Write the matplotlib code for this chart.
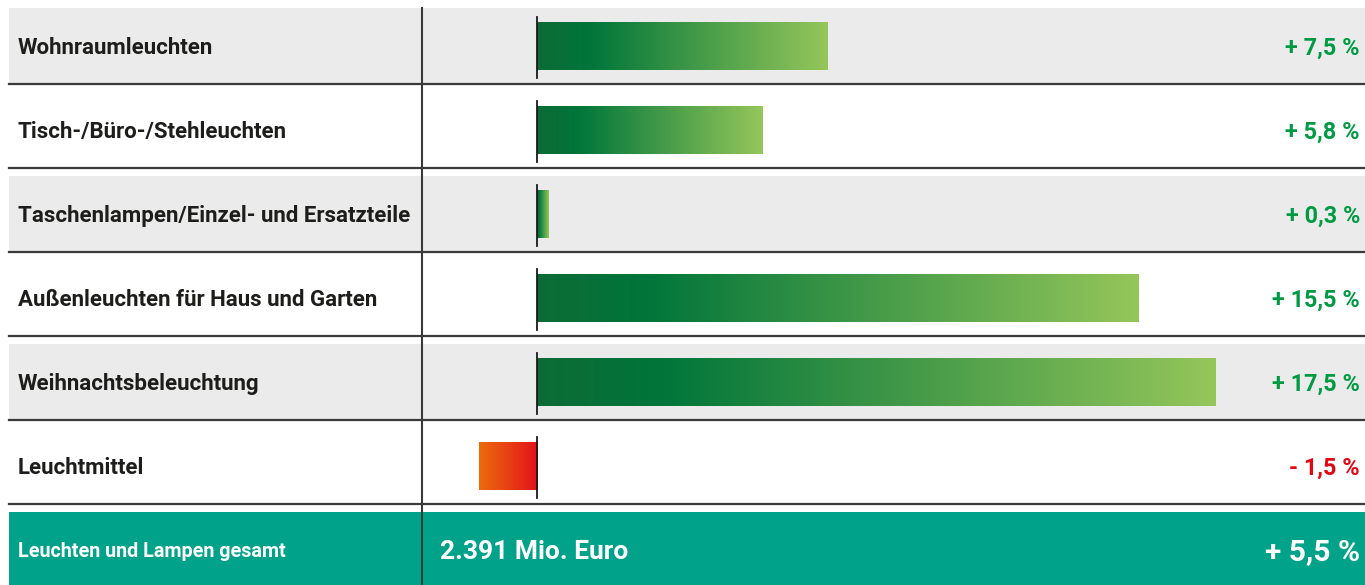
import numpy as np
import matplotlib.pyplot as plt
from matplotlib.colors import LinearSegmentedColormap

# Data
categories = ['Wohnraumleuchten', 'Tisch-/Büro-/Stehleuchten',
              'Taschenlampen/Einzel- und Ersatzteile', 'Außenleuchten für Haus und Garten',
              'Weihnachtsbeleuchtung', 'Leuchtmittel']
changes = [7.5, 5.8, 0.3, 15.5, 17.5, -1.5]
value_labels = ['+ 7,5 %', '+ 5,8 %', '+ 0,3 %', '+ 15,5 %', '+ 17,5 %', '- 1,5 %']
total_label = 'Leuchten und Lampen gesamt'
total_value = '2.391 Mio. Euro'
total_change = '+ 5,5 %'

FONT = ['Roboto', 'DejaVu Sans']
W, H = 1365, 585

green_cmap = LinearSegmentedColormap.from_list(
    'g', [(0, '#0d6b35'), (0.18, '#00753a'), (1, '#95c65a')])
red_cmap = LinearSegmentedColormap.from_list('r', ['#ec6b0e', '#e3121a'])

fig = plt.figure(figsize=(W / 100, H / 100), dpi=100)
ax = fig.add_axes([0, 0, 1, 1])

# x: percent units, zero at pixel 537, 38.8 px per percent
px_per = 38.8
x0 = -537 / px_per
x1 = (W - 537) / px_per
# y: one unit per row (84 px)
row_px = 84
ytop, ybot = 0, H / row_px
ax.axis('off')


def px(xp):
    # pixel column -> data x
    return x0 + xp / px_per


gap = 8 / row_px
n = len(categories)
bar_h = 0.57

for i, (cat, v, lab) in enumerate(zip(categories, changes, value_labels)):
    if i % 2 == 0:
        ax.fill_between([px(9), x1], i + gap, i + 1, color='#ebebeb', lw=0, zorder=0)
    ax.plot([px(9), x1], [i + 1, i + 1], color='#3a3a3a', lw=1.6, zorder=3)
    yc = i + 0.55
    grad = np.linspace(0, 1, 256).reshape(1, -1)
    cmap = green_cmap if v >= 0 else red_cmap
    ax.imshow(grad, cmap=cmap, aspect='auto', interpolation='bilinear',
              extent=(min(0, v), max(0, v), yc + bar_h / 2, yc - bar_h / 2), zorder=2)
    ax.plot([0, 0], [i + 0.2, i + 0.93], color='#1a1a1a', lw=1.3, zorder=4)
    ax.text(px(18), yc + 0.025, cat, fontsize=16, fontweight='bold', family=FONT,
            color='#1d1d1b', va='center', ha='left')
    ax.text(px(1360), yc + 0.02, lab, fontsize=16.8, fontweight='bold', family=FONT,
            color='#009a44' if v >= 0 else '#e30613', va='center', ha='right')

# total row
ty0 = n + gap
ax.fill_between([px(9), x1], ty0, ybot, color='#00a389', lw=0, zorder=1)
tyc = (ty0 + ybot) / 2 + 0.04
ax.text(px(18), tyc, total_label, fontsize=14.2, fontweight='bold', family=FONT,
        color='white', va='center', ha='left', zorder=5)
ax.text(px(440), tyc, total_value, fontsize=19, fontweight='bold', family=FONT,
        color='white', va='center', ha='left', zorder=5)
ax.text(px(1360), tyc, total_change, fontsize=21.5, fontweight='bold', family=FONT,
        color='white', va='center', ha='right', zorder=5)

# vertical separator
ax.plot([px(422), px(422)], [gap, ybot], color='#3a3a3a', lw=1.5, zorder=6)

ax.set_xlim(x0, x1)
ax.set_ylim(ybot, ytop)
fig.savefig('out.png', dpi=100)
